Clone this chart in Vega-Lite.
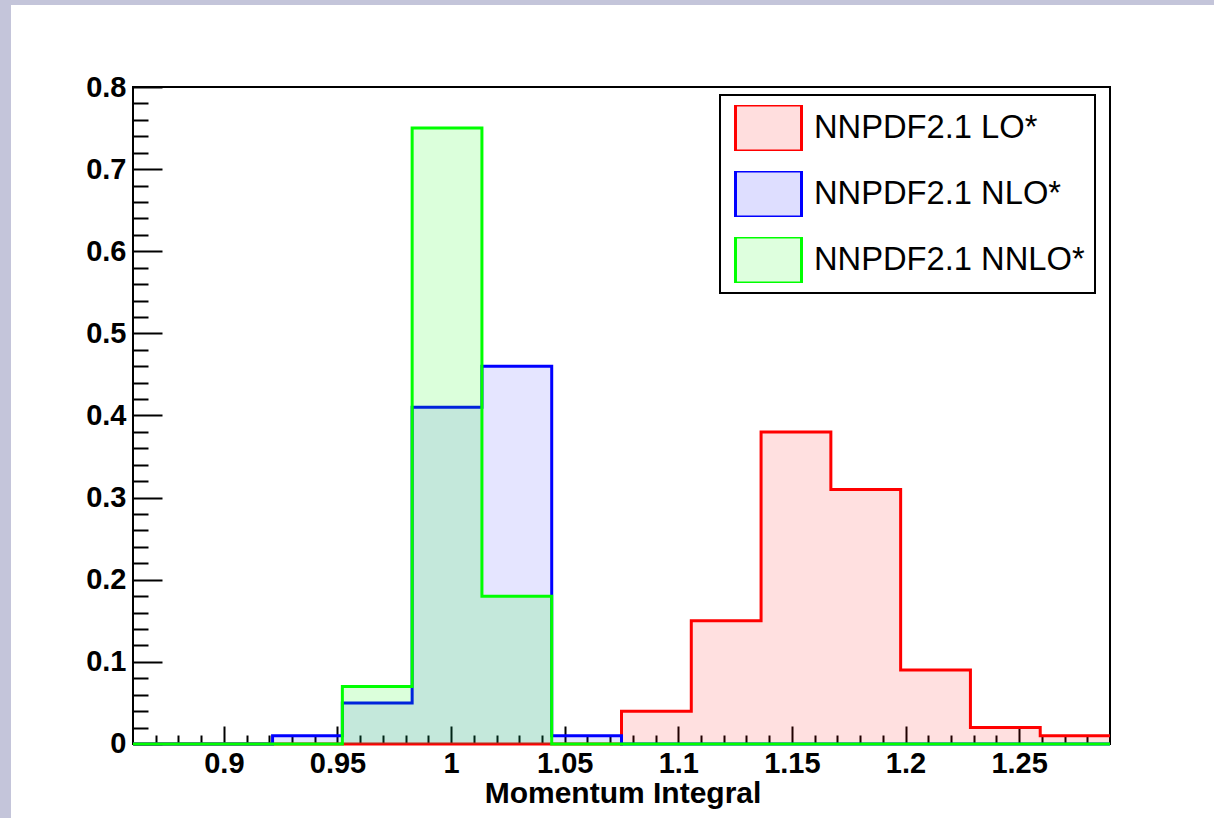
{
  "$schema": "https://vega.github.io/schema/vega-lite/v6.json",
  "width": 1203,
  "height": 813,
  "autosize": {"type": "none"},
  "padding": {"left": 11, "top": 5, "right": 0, "bottom": 0},
  "background": "#c4c5da",
  "config": {"view": {"fill": "white", "stroke": null}, "font": "Liberation Sans"},
  "datasets": {
    "frame": [{"x0": 0.86, "x1": 1.29, "y0": 0, "y1": 0.8}],
    "hist": [
      {"series": "NNPDF2.1 LO*", "x": 0.86, "y": 0},
      {"series": "NNPDF2.1 LO*", "x": 0.890714, "y": 0},
      {"series": "NNPDF2.1 LO*", "x": 0.921429, "y": 0},
      {"series": "NNPDF2.1 LO*", "x": 0.952143, "y": 0},
      {"series": "NNPDF2.1 LO*", "x": 0.982857, "y": 0},
      {"series": "NNPDF2.1 LO*", "x": 1.013571, "y": 0},
      {"series": "NNPDF2.1 LO*", "x": 1.044286, "y": 0},
      {"series": "NNPDF2.1 LO*", "x": 1.075, "y": 0.04},
      {"series": "NNPDF2.1 LO*", "x": 1.105714, "y": 0.15},
      {"series": "NNPDF2.1 LO*", "x": 1.136429, "y": 0.38},
      {"series": "NNPDF2.1 LO*", "x": 1.167143, "y": 0.31},
      {"series": "NNPDF2.1 LO*", "x": 1.197857, "y": 0.09},
      {"series": "NNPDF2.1 LO*", "x": 1.228571, "y": 0.02},
      {"series": "NNPDF2.1 LO*", "x": 1.259286, "y": 0.01},
      {"series": "NNPDF2.1 LO*", "x": 1.29, "y": 0.01},
      {"series": "NNPDF2.1 NLO*", "x": 0.86, "y": 0},
      {"series": "NNPDF2.1 NLO*", "x": 0.890714, "y": 0},
      {"series": "NNPDF2.1 NLO*", "x": 0.921429, "y": 0.01},
      {"series": "NNPDF2.1 NLO*", "x": 0.952143, "y": 0.05},
      {"series": "NNPDF2.1 NLO*", "x": 0.982857, "y": 0.41},
      {"series": "NNPDF2.1 NLO*", "x": 1.013571, "y": 0.46},
      {"series": "NNPDF2.1 NLO*", "x": 1.044286, "y": 0.01},
      {"series": "NNPDF2.1 NLO*", "x": 1.075, "y": 0},
      {"series": "NNPDF2.1 NLO*", "x": 1.105714, "y": 0},
      {"series": "NNPDF2.1 NLO*", "x": 1.136429, "y": 0},
      {"series": "NNPDF2.1 NLO*", "x": 1.167143, "y": 0},
      {"series": "NNPDF2.1 NLO*", "x": 1.197857, "y": 0},
      {"series": "NNPDF2.1 NLO*", "x": 1.228571, "y": 0},
      {"series": "NNPDF2.1 NLO*", "x": 1.259286, "y": 0},
      {"series": "NNPDF2.1 NLO*", "x": 1.29, "y": 0},
      {"series": "NNPDF2.1 NNLO*", "x": 0.86, "y": 0},
      {"series": "NNPDF2.1 NNLO*", "x": 0.890714, "y": 0},
      {"series": "NNPDF2.1 NNLO*", "x": 0.921429, "y": 0},
      {"series": "NNPDF2.1 NNLO*", "x": 0.952143, "y": 0.07},
      {"series": "NNPDF2.1 NNLO*", "x": 0.982857, "y": 0.75},
      {"series": "NNPDF2.1 NNLO*", "x": 1.013571, "y": 0.18},
      {"series": "NNPDF2.1 NNLO*", "x": 1.044286, "y": 0},
      {"series": "NNPDF2.1 NNLO*", "x": 1.075, "y": 0},
      {"series": "NNPDF2.1 NNLO*", "x": 1.105714, "y": 0},
      {"series": "NNPDF2.1 NNLO*", "x": 1.136429, "y": 0},
      {"series": "NNPDF2.1 NNLO*", "x": 1.167143, "y": 0},
      {"series": "NNPDF2.1 NNLO*", "x": 1.197857, "y": 0},
      {"series": "NNPDF2.1 NNLO*", "x": 1.228571, "y": 0},
      {"series": "NNPDF2.1 NNLO*", "x": 1.259286, "y": 0},
      {"series": "NNPDF2.1 NNLO*", "x": 1.29, "y": 0}
    ]
  },
  "resolve": {"axis": {"x": "independent", "y": "independent"}},
  "layer": [
    {
      "data": {"name": "frame"},
      "mark": {"type": "rect", "filled": false, "stroke": "black", "strokeWidth": 2},
      "encoding": {
        "x": {"field": "x0", "type": "quantitative",
              "scale": {"domain": [0.806305, 1.335772], "nice": false, "zero": false},
              "axis": {"orient": "bottom", "offset": -74, "values": [0.9, 0.95, 1, 1.05, 1.1, 1.15, 1.2, 1.25],
                       "format": "~g", "ticks": false, "tickSize": 0, "domain": false, "grid": false,
                       "labelFont": "Liberation Sans", "labelFontWeight": "bold", "labelFontSize": 29,
                       "labelColor": "black", "labelPadding": 5, "labelFlush": false, "labelOverlap": false,
                       "title": "Momentum Integral", "titleFont": "Liberation Sans", "titleFontWeight": "bold",
                       "titleFontSize": 30, "titleColor": "black", "titlePadding": 0, "titleX": 611.5, "titleAlign": "center"}},
        "x2": {"field": "x1"},
        "y": {"field": "y0", "type": "quantitative",
              "scale": {"domain": [-0.090107, 0.899848], "nice": false, "zero": false},
              "axis": {"orient": "left", "offset": -122, "values": [0, 0.1, 0.2, 0.3, 0.4, 0.5, 0.6, 0.7, 0.8],
                       "format": "~g", "ticks": false, "tickSize": 0, "domain": false, "grid": false,
                       "labelFont": "Liberation Sans", "labelFontWeight": "bold", "labelFontSize": 29,
                       "labelColor": "black", "labelPadding": 7, "labelFlush": false, "labelOverlap": false, "title": null}},
        "y2": {"field": "y1"}
      }
    },
    {
      "data": {"name": "hist"},
      "transform": [{"filter": "datum.series === 'NNPDF2.1 LO*'"}],
      "mark": {"type": "area", "interpolate": "step-after", "fillOpacity": 0.12},
      "encoding": {
        "x": {"field": "x", "type": "quantitative",
              "scale": {"domain": [0.806305, 1.335772], "nice": false, "zero": false},
              "axis": {"orient": "bottom", "offset": -74, "values": [0.9, 0.95, 1, 1.05, 1.1, 1.15, 1.2, 1.25],
                       "labels": false, "domain": false, "grid": false, "ticks": true, "tickSize": -18,
                       "tickWidth": 2, "tickColor": "black", "title": null}},
        "y": {"field": "y", "type": "quantitative",
              "scale": {"domain": [-0.090107, 0.899848], "nice": false, "zero": false},
              "axis": {"orient": "left", "offset": -122, "values": [0, 0.1, 0.2, 0.3, 0.4, 0.5, 0.6, 0.7, 0.8],
                       "labels": false, "domain": false, "grid": false, "ticks": true, "tickSize": -29,
                       "tickWidth": 2, "tickColor": "black", "title": null}},
        "y2": {"datum": 0},
        "color": {"field": "series", "type": "nominal",
                  "scale": {"domain": ["NNPDF2.1 LO*", "NNPDF2.1 NLO*", "NNPDF2.1 NNLO*"], "range": ["#ff0000", "#0000ff", "#00ff00"]},
                  "legend": {"orient": "none", "legendX": 709, "legendY": 90, "title": null,
                             "padding": 10, "fillColor": "white", "strokeColor": "black",
                             "symbolType": "M-1.435,-1L1.435,-1L1.435,1L-1.435,1Z", "symbolSize": 2116,
                             "symbolStrokeWidth": 3, "symbolOffset": 14, "labelOffset": 21, "rowPadding": 20, "clipHeight": 46,
                             "labelFont": "Liberation Sans", "labelFontSize": 32.7, "labelColor": "black", "labelLimit": 0,
                             "encode": {"legend": {"update": {"strokeWidth": {"value": 2}}},
                                        "symbols": {"update": {"fillOpacity": {"value": 0.13}, "strokeOpacity": {"value": 1}, "strokeWidth": {"value": 3}}}}}}
      }
    },
    {
      "data": {"name": "hist"},
      "transform": [{"filter": "datum.series === 'NNPDF2.1 LO*'"}],
      "mark": {"type": "line", "interpolate": "step-after", "strokeWidth": 3},
      "encoding": {
        "x": {"field": "x", "type": "quantitative",
              "scale": {"domain": [0.806305, 1.335772], "nice": false, "zero": false},
              "axis": {"orient": "bottom", "offset": -74,
                       "values": [0.87, 0.88, 0.89, 0.91, 0.92, 0.93, 0.94, 0.96, 0.97, 0.98, 0.99, 1.01, 1.02, 1.03, 1.04, 1.06, 1.07, 1.08, 1.09, 1.11, 1.12, 1.13, 1.14, 1.16, 1.17, 1.18, 1.19, 1.21, 1.22, 1.23, 1.24, 1.26, 1.27, 1.28],
                       "labels": false, "domain": false, "grid": false, "ticks": true, "tickSize": -9,
                       "tickWidth": 2, "tickColor": "black", "title": null}},
        "y": {"field": "y", "type": "quantitative",
              "scale": {"domain": [-0.090107, 0.899848], "nice": false, "zero": false},
              "axis": {"orient": "left", "offset": -122,
                       "values": [0.02, 0.04, 0.06, 0.08, 0.12, 0.14, 0.16, 0.18, 0.22, 0.24, 0.26, 0.28, 0.32, 0.34, 0.36, 0.38, 0.42, 0.44, 0.46, 0.48, 0.52, 0.54, 0.56, 0.58, 0.62, 0.64, 0.66, 0.68, 0.72, 0.74, 0.76, 0.78],
                       "labels": false, "domain": false, "grid": false, "ticks": true, "tickSize": -15,
                       "tickWidth": 2, "tickColor": "black", "title": null}},
        "color": {"field": "series", "type": "nominal"}
      }
    },
    {
      "data": {"name": "hist"},
      "transform": [{"filter": "datum.series === 'NNPDF2.1 NLO*'"}],
      "mark": {"type": "area", "interpolate": "step-after", "fillOpacity": 0.1},
      "encoding": {
        "x": {"field": "x", "type": "quantitative", "scale": {"domain": [0.806305, 1.335772], "nice": false, "zero": false}, "axis": null},
        "y": {"field": "y", "type": "quantitative", "scale": {"domain": [-0.090107, 0.899848], "nice": false, "zero": false}, "axis": null},
        "y2": {"datum": 0},
        "color": {"field": "series", "type": "nominal"}
      }
    },
    {
      "data": {"name": "hist"},
      "transform": [{"filter": "datum.series === 'NNPDF2.1 NLO*'"}],
      "mark": {"type": "line", "interpolate": "step-after", "strokeWidth": 3},
      "encoding": {
        "x": {"field": "x", "type": "quantitative", "scale": {"domain": [0.806305, 1.335772], "nice": false, "zero": false}, "axis": null},
        "y": {"field": "y", "type": "quantitative", "scale": {"domain": [-0.090107, 0.899848], "nice": false, "zero": false}, "axis": null},
        "color": {"field": "series", "type": "nominal"}
      }
    },
    {
      "data": {"name": "hist"},
      "transform": [{"filter": "datum.series === 'NNPDF2.1 NNLO*'"}],
      "mark": {"type": "area", "interpolate": "step-after", "fillOpacity": 0.14},
      "encoding": {
        "x": {"field": "x", "type": "quantitative", "scale": {"domain": [0.806305, 1.335772], "nice": false, "zero": false}, "axis": null},
        "y": {"field": "y", "type": "quantitative", "scale": {"domain": [-0.090107, 0.899848], "nice": false, "zero": false}, "axis": null},
        "y2": {"datum": 0},
        "color": {"field": "series", "type": "nominal"}
      }
    },
    {
      "data": {"name": "hist"},
      "transform": [{"filter": "datum.series === 'NNPDF2.1 NNLO*'"}],
      "mark": {"type": "line", "interpolate": "step-after", "strokeWidth": 3},
      "encoding": {
        "x": {"field": "x", "type": "quantitative", "scale": {"domain": [0.806305, 1.335772], "nice": false, "zero": false}, "axis": null},
        "y": {"field": "y", "type": "quantitative", "scale": {"domain": [-0.090107, 0.899848], "nice": false, "zero": false}, "axis": null},
        "color": {"field": "series", "type": "nominal"}
      }
    }
  ]
}
